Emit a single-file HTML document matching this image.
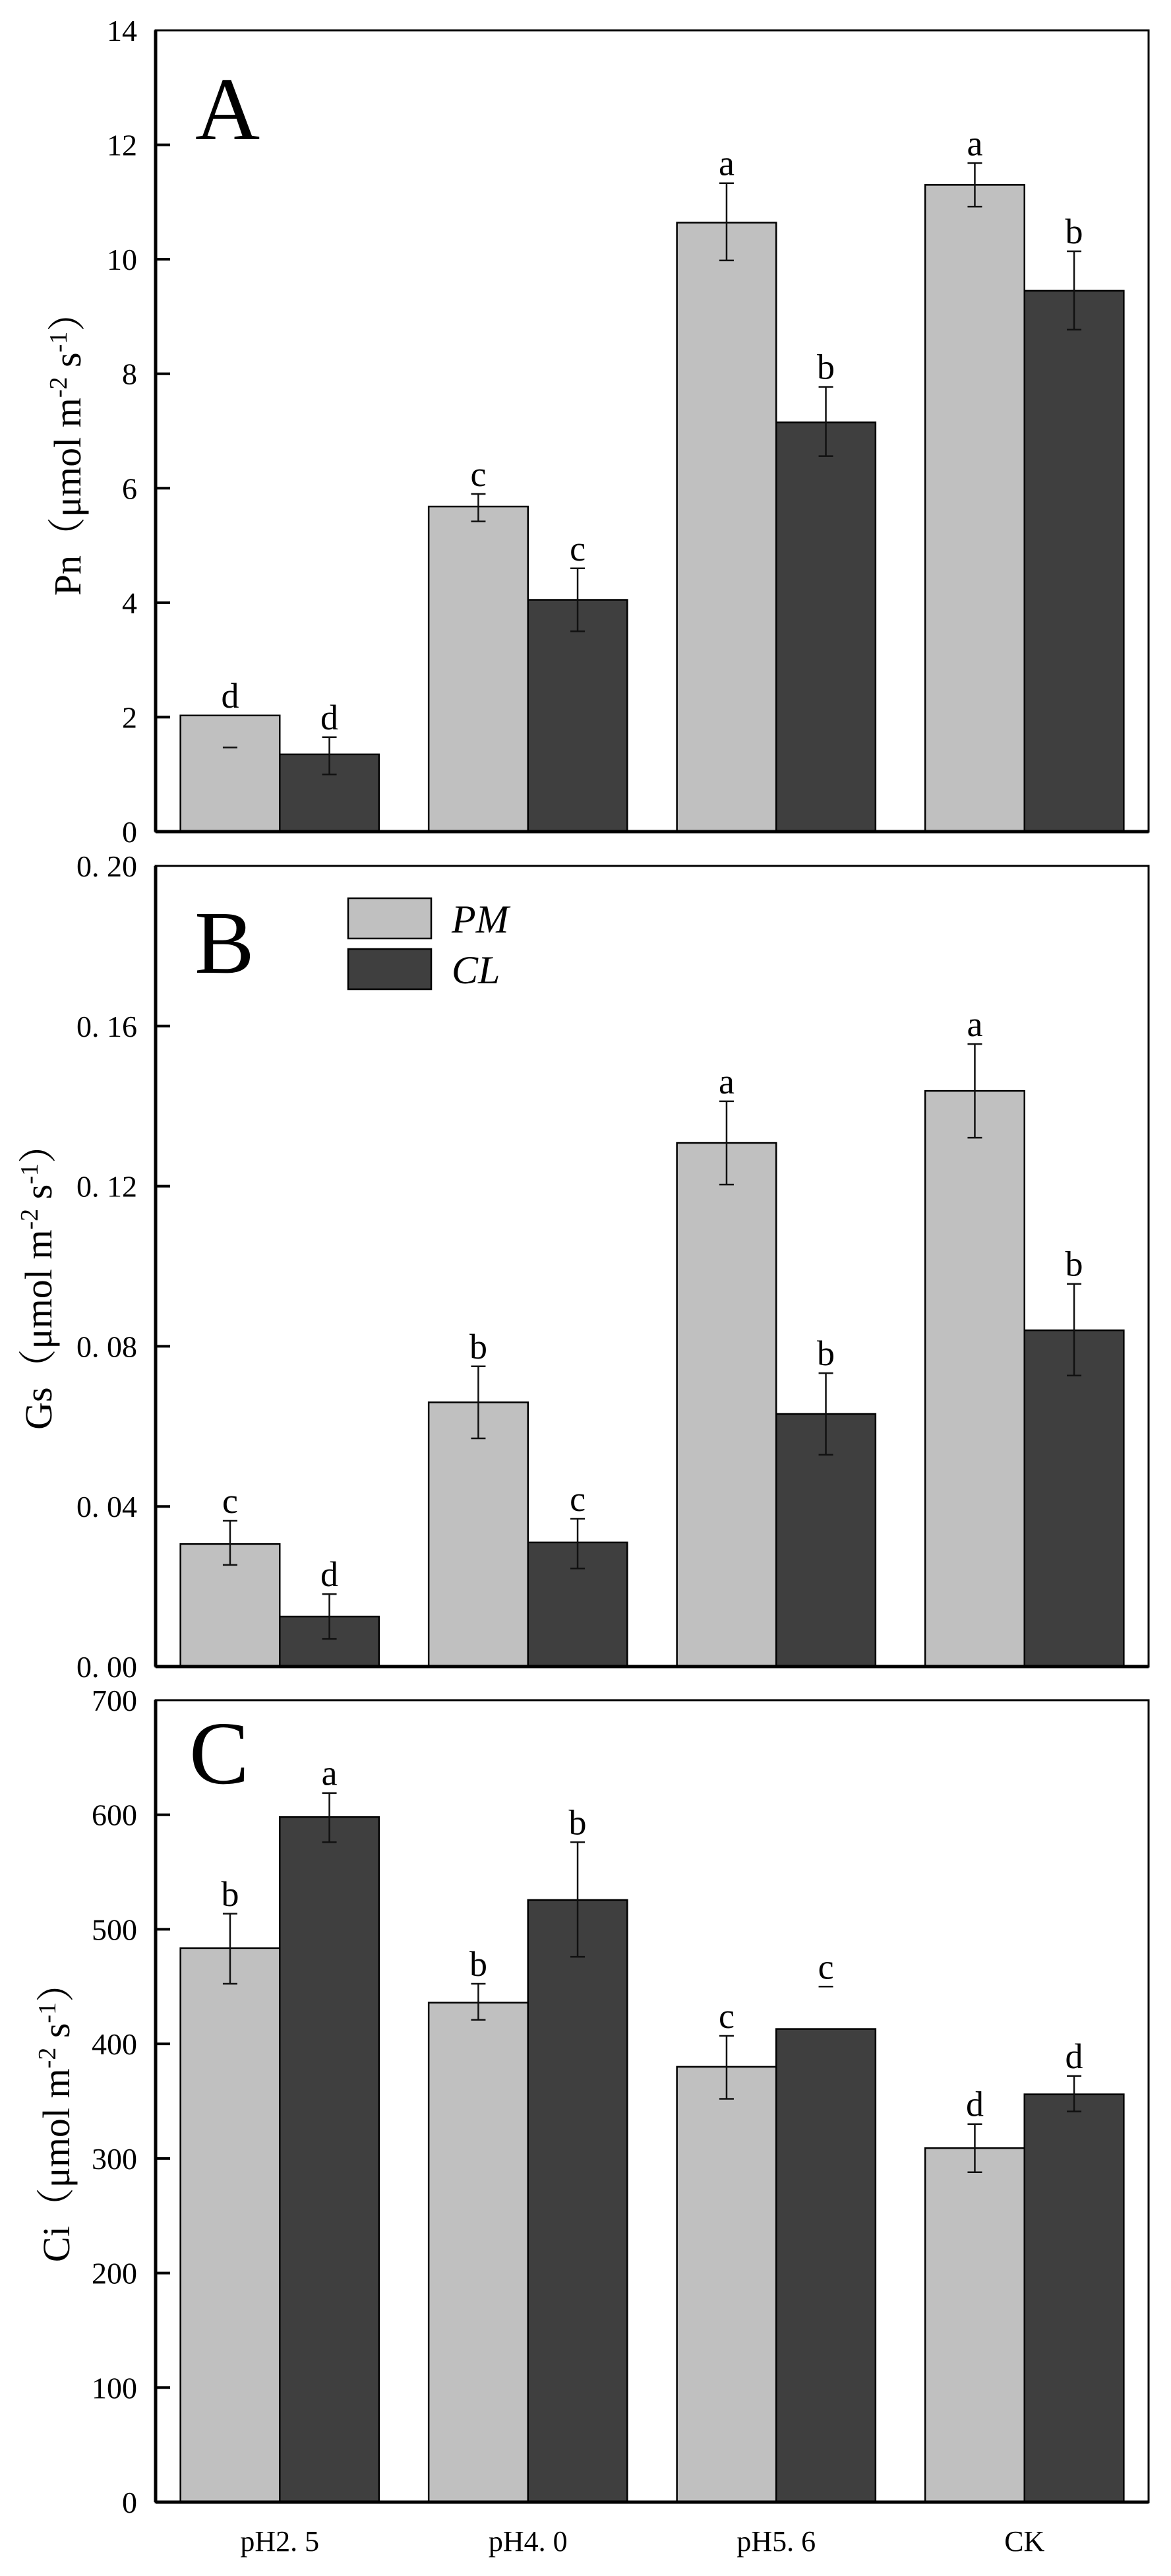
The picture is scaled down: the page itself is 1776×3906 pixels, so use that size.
<!DOCTYPE html>
<html><head><meta charset="utf-8"><style>
html,body{margin:0;padding:0;background:#fff;}
svg{display:block;}
</style></head><body>
<svg id="chart" width="1776" height="3906" viewBox="0 0 1776 3906" xmlns="http://www.w3.org/2000/svg"></svg>
<script>
const categories = ["pH2. 5", "pH4. 0", "pH5. 6", "CK"];
const seriesNames = ["PM", "CL"];
// Panel A (Pn)
const pnPM = [2.03, 5.68, 10.64, 11.30];
const pnCL = [1.35, 4.05, 7.15, 9.45];
const pnPMHi = [null, 5.9, 11.33, 11.68];
const pnPMLo = [1.47, 5.42, 9.98, 10.92];
const pnCLHi = [1.65, 4.6, 7.77, 10.14];
const pnCLLo = [1.0, 3.5, 6.56, 8.77];
const pnPMLbl = ["d", "c", "a", "a"];
const pnCLLbl = ["d", "c", "b", "b"];
const pnTicks = ["0", "2", "4", "6", "8", "10", "12", "14"];
const pnTickVals = [0, 2, 4, 6, 8, 10, 12, 14];
// Panel B (Gs)
const gsPM = [0.0306, 0.066, 0.1308, 0.1438];
const gsCL = [0.0125, 0.031, 0.0631, 0.084];
const gsPMHi = [0.0364, 0.075, 0.1412, 0.1555];
const gsPMLo = [0.0254, 0.057, 0.1204, 0.1321];
const gsCLHi = [0.0181, 0.0369, 0.0733, 0.0956];
const gsCLLo = [0.0069, 0.0245, 0.0529, 0.0727];
const gsPMLbl = ["c", "b", "a", "a"];
const gsCLLbl = ["d", "c", "b", "b"];
const gsTicks = ["0. 00", "0. 04", "0. 08", "0. 12", "0. 16", "0. 20"];
const gsTickVals = [0, 0.04, 0.08, 0.12, 0.16, 0.20];
// Panel C (Ci)
const ciPM = [483.6, 436, 380, 309];
const ciCL = [598, 525.6, 413, 356];
const ciPMHi = [513.6, 452.5, 407, 330];
const ciPMLo = [452.5, 421, 352, 288];
const ciCLHi = [619, 576, 450, 372];
const ciCLLo = [576, 476, null, 341];
const ciPMLbl = ["b", "b", "c", "d"];
const ciCLLbl = ["a", "b", "c", "d"];
const ciTicks = ["0", "100", "200", "300", "400", "500", "600", "700"];
const ciTickVals = [0, 100, 200, 300, 400, 500, 600, 700];

const NS = "http://www.w3.org/2000/svg";
const svg = document.getElementById("chart");
function mk(tag, attrs, parent, text) {
  const e = document.createElementNS(NS, tag);
  for (const k in attrs) e.setAttribute(k, attrs[k]);
  if (text !== undefined) e.textContent = text;
  (parent || svg).appendChild(e);
  return e;
}
const X0 = 236, X1 = 1742;
const FONT = '"Liberation Serif", "Noto Serif CJK SC", serif';

function panel(cfg) {
  const g = mk("g", {});
  
  
  const y = v => cfg.bot - (v - cfg.min) / (cfg.max - cfg.min) * (cfg.bot - cfg.top);
  const band = (X1 - X0) / categories.length;
  const bw = band * 0.4;
  const cx = i => X0 + band * (i + 0.5);
  // bars
  const series = [
    {vals: cfg.pm, hi: cfg.pmHi, lo: cfg.pmLo, lbl: cfg.pmLbl, fill: "#c0c0c0", off: -1, name: "pm"},
    {vals: cfg.cl, hi: cfg.clHi, lo: cfg.clLo, lbl: cfg.clLbl, fill: "#3f3f3f", off: 0, name: "cl"}
  ];
  series.forEach(s => {
    s.vals.forEach((v, i) => {
      const x = cx(i) + s.off * bw;
      const r = mk("rect", {x: x, y: y(v), width: bw, height: y(cfg.min) - y(v), fill: s.fill, stroke: "#000", "stroke-width": 2.5}, g);
      
      
      const ex = x + bw / 2;
      const hi = s.hi[i], lo = s.lo[i];
      const eg = mk("g", {stroke: "#111", "stroke-width": 2.5}, g);
      
      
      if (hi !== null && lo !== null) mk("line", {x1: ex, x2: ex, y1: y(hi), y2: y(lo)}, eg);
      if (hi !== null) mk("line", {x1: ex - 11, x2: ex + 11, y1: y(hi), y2: y(hi)}, eg);
      if (lo !== null) mk("line", {x1: ex - 11, x2: ex + 11, y1: y(lo), y2: y(lo)}, eg);
      const topV = Math.max(v, hi === null ? v : hi);
      const t = mk("text", {x: ex, y: y(topV) - 12, "text-anchor": "middle", "font-family": FONT, "font-size": 54, fill: "#000"}, g, s.lbl[i]);
      
      
    });
  });
  // frame
  const fr = mk("rect", {x: X0, y: cfg.top, width: X1 - X0, height: cfg.bot - cfg.top, fill: "none", stroke: "#000", "stroke-width": 3}, g);
  
  
  const ax = mk("line", {x1: X0, x2: X0, y1: cfg.top, y2: cfg.bot, stroke: "#000", "stroke-width": 5}, g);
  
  
  const bx = mk("line", {x1: X0, x2: X1, y1: cfg.bot, y2: cfg.bot, stroke: "#000", "stroke-width": 5}, g);
  
  
  // ticks
  cfg.tickVals.forEach((tv, i) => {
    const ty = y(tv);
    if (i > 0 && i < cfg.tickVals.length - 1) mk("line", {x1: X0, x2: X0 + 22, y1: ty, y2: ty, stroke: "#000", "stroke-width": 4}, g);
    const t = mk("text", {x: 208, y: ty + 16, "text-anchor": "end", "font-family": FONT, "font-size": 46, fill: "#000"}, g, cfg.ticks[i]);
    
    
  });
  // y title
  const yt = mk("text", {transform: "translate(" + cfg.titleX + "," + cfg.titleY + ") rotate(-90)", "text-anchor": "middle", "font-family": FONT, "font-size": 58, fill: "#000"}, g);
  
  
  mk("tspan", {}, yt, cfg.title + "（μmol m");
  mk("tspan", {"baseline-shift": "super", "font-size": 38}, yt, "-2");
  mk("tspan", {}, yt, " s");
  mk("tspan", {"baseline-shift": "super", "font-size": 38}, yt, "-1");
  mk("tspan", {}, yt, "）");
  // panel letter
  const pl = mk("text", {x: cfg.letterX, y: cfg.letterY, "font-family": FONT, "font-size": 136, fill: "#000"}, g, cfg.letter);
  
  
  return {cx: cx};
}

panel({key: "pn", top: 46, bot: 1261, min: 0, max: 14, pm: pnPM, cl: pnCL, pmHi: pnPMHi, pmLo: pnPMLo, clHi: pnCLHi, clLo: pnCLLo, pmLbl: pnPMLbl, clLbl: pnCLLbl, ticks: pnTicks, tickVals: pnTickVals, title: "Pn", titleX: 122, titleY: 674, letter: "A", letterX: 296, letterY: 211});
panel({key: "gs", top: 1313, bot: 2527, min: 0, max: 0.20, pm: gsPM, cl: gsCL, pmHi: gsPMHi, pmLo: gsPMLo, clHi: gsCLHi, clLo: gsCLLo, pmLbl: gsPMLbl, clLbl: gsCLLbl, ticks: gsTicks, tickVals: gsTickVals, title: "Gs", titleX: 78, titleY: 1937, letter: "B", letterX: 295, letterY: 1475});
const pc = panel({key: "ci", top: 2578, bot: 3794, min: 0, max: 700, pm: ciPM, cl: ciCL, pmHi: ciPMHi, pmLo: ciPMLo, clHi: ciCLHi, clLo: ciCLLo, pmLbl: ciPMLbl, clLbl: ciCLLbl, ticks: ciTicks, tickVals: ciTickVals, title: "Ci", titleX: 105, titleY: 3204, letter: "C", letterX: 287, letterY: 2704});

categories.forEach((c, i) => {
  const t = mk("text", {x: pc.cx(i), y: 3868, "text-anchor": "middle", "font-family": FONT, "font-size": 44, fill: "#000"}, svg, c);
  
  
});

// legend
const lg = mk("g", {});


const legFills = ["#c0c0c0", "#3f3f3f"];
const legY = [1362, 1439];
seriesNames.forEach((n, i) => {
  const r = mk("rect", {x: 528, y: legY[i], width: 126, height: 61, fill: legFills[i], stroke: "#000", "stroke-width": 2.5}, lg);
  
  
  const t = mk("text", {x: 685, y: legY[i] + 52, "font-family": FONT, "font-style": "italic", "font-size": 60, fill: "#000"}, lg, n);
  
  
});
</script>
</body></html>
